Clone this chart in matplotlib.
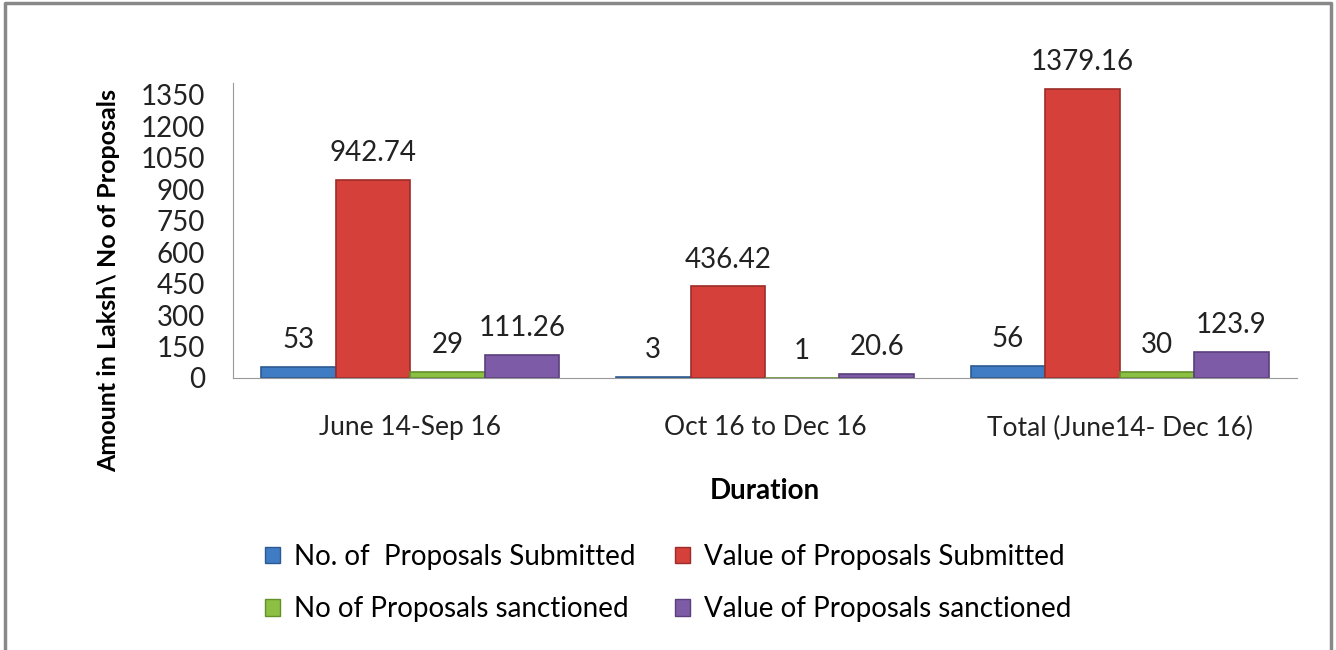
import matplotlib.pyplot as plt
import numpy as np
from matplotlib.lines import Line2D
from matplotlib.patches import Patch

# chart data
CATEGORIES = ["June 14-Sep 16", "Oct 16 to Dec 16", "Total (June14- Dec 16)"]
SERIES_NAMES = [
    "No. of  Proposals Submitted",
    "Value of Proposals Submitted",
    "No of Proposals sanctioned",
    "Value of Proposals sanctioned",
]
NO_SUBMITTED = [53, 3, 56]
VALUE_SUBMITTED = [942.74, 436.42, 1379.16]
NO_SANCTIONED = [29, 1, 30]
VALUE_SANCTIONED = [111.26, 20.6, 123.9]
Y_TICKS = [0, 150, 300, 450, 600, 750, 900, 1050, 1200, 1350]

COLORS = ["#3F7CC4", "#D5403B", "#8CC043", "#7E5BA6"]
EDGES = ["#2C5A90", "#9C2C28", "#64902A", "#5A3F7C"]

plt.rcParams["font.family"] = ["Lato", "DejaVu Sans"]

fig = plt.figure(figsize=(13.36, 6.5), dpi=100)
ax = fig.add_axes([0.1744, 0.4185, 0.7964, 0.4538])

series = [NO_SUBMITTED, VALUE_SUBMITTED, NO_SANCTIONED, VALUE_SANCTIONED]
x = np.arange(len(CATEGORIES))
width = 0.21
for i, vals in enumerate(series):
    pos = x + (i - 1.5) * width
    bars = ax.bar(pos, vals, width, color=COLORS[i], edgecolor=EDGES[i], linewidth=1.2)
    for b, v in zip(bars, vals):
        ax.annotate(f"{v:g}", (b.get_x() + b.get_width() / 2, v),
                    xytext=(0, 10), textcoords="offset points",
                    ha="center", va="bottom", fontsize=20, color="#222222")

ax.set_xlim(-0.5, 2.5)
ax.set_ylim(0, 1407)
ax.set_yticks(Y_TICKS)
ax.set_xticks(x)
ax.set_xticklabels(CATEGORIES, fontsize=19)
ax.tick_params(axis="both", length=0, colors="#222222")
ax.tick_params(axis="y", labelsize=20, pad=20)
ax.tick_params(axis="x", pad=27)
for s in ["top", "right"]:
    ax.spines[s].set_visible(False)
for s in ["left", "bottom"]:
    ax.spines[s].set_color("#999999")

ax.set_xlabel("Duration", fontsize=20, fontweight="bold", labelpad=27)
ax.set_ylabel("Amount in Laksh\\ No of Proposals", fontsize=18, fontweight="bold")
ax.yaxis.set_label_coords(-0.106, 0.33)

# legend filled row by row like the original
order = [0, 2, 1, 3]
handles = [Patch(facecolor=COLORS[k], edgecolor=EDGES[k]) for k in order]
labels = [SERIES_NAMES[k] for k in order]
fig.legend(handles, labels, loc="center", bbox_to_anchor=(0.5, 0.103),
           ncol=2, frameon=False, fontsize=20, handlelength=0.55, handleheight=0.55,
           columnspacing=1.4, handletextpad=0.5, labelspacing=0.95)

# outer frame of the chart area
frame = Line2D([0.004, 0.004, 0.996, 0.996], [0.0, 0.995, 0.995, 0.0],
               transform=fig.transFigure, color="#888888", linewidth=2.5)
fig.add_artist(frame)

fig.savefig("out.png", dpi=100)
